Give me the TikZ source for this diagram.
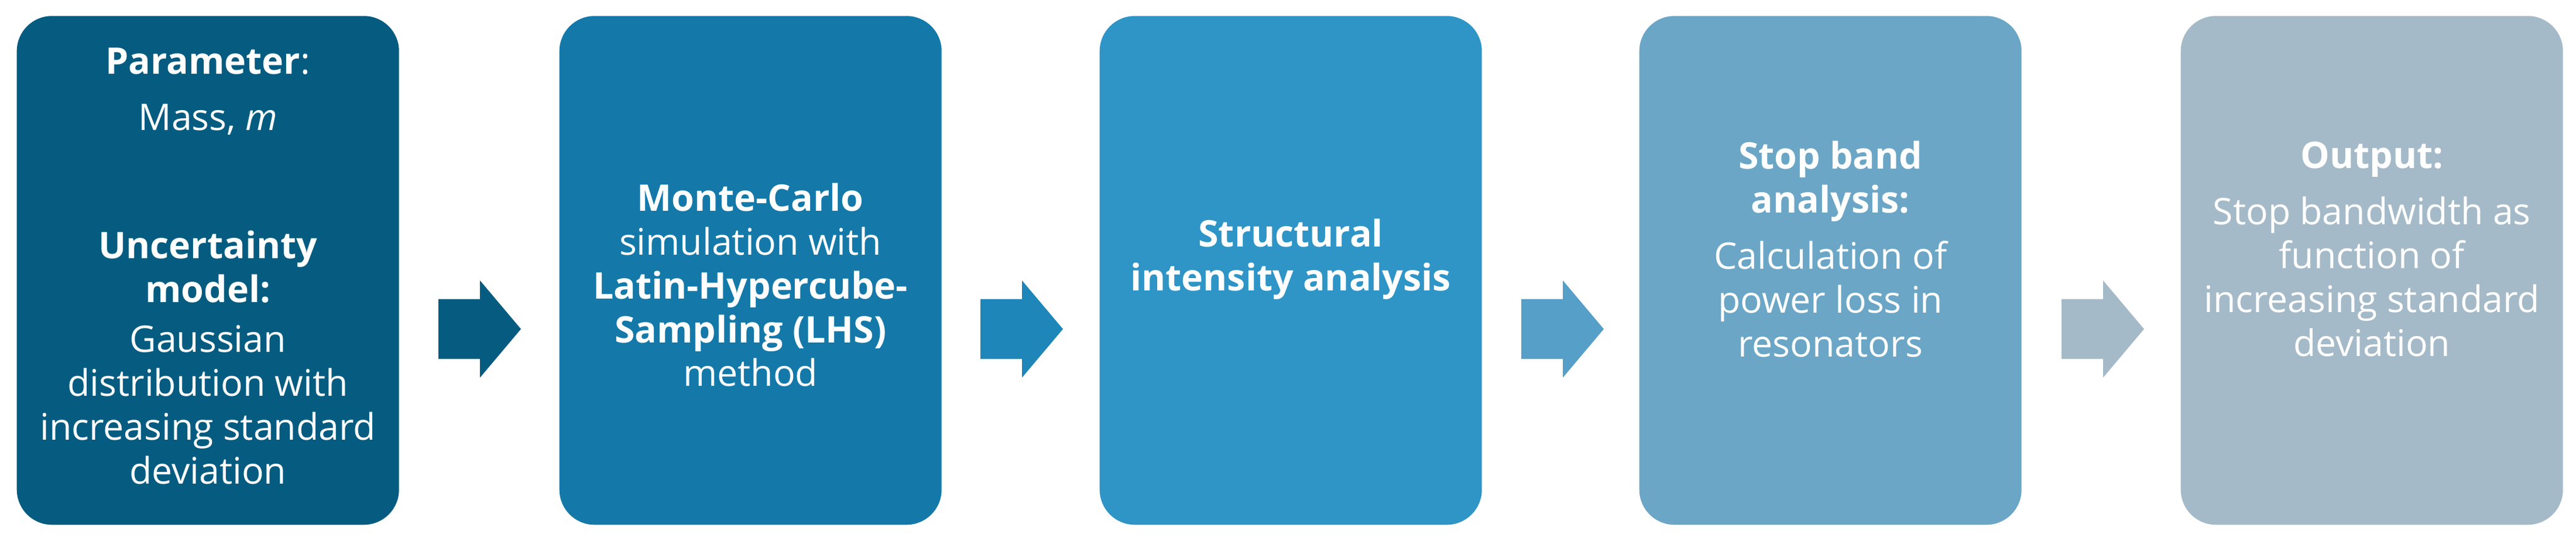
\documentclass[tikz,border=0pt]{standalone}
\usepackage{fontspec}
\setmainfont{Open Sans}
\definecolor{c1}{HTML}{055C80}
\definecolor{c2}{HTML}{1479A9}
\definecolor{c3}{HTML}{2F95C6}
\definecolor{c4}{HTML}{6BA6C6}
\definecolor{c5}{HTML}{A5BAC8}
\definecolor{a1}{HTML}{055C80}
\definecolor{a2}{HTML}{1E86B8}
\definecolor{a3}{HTML}{559FC8}
\definecolor{a4}{HTML}{A5BAC8}
\begin{document}
\begin{tikzpicture}[x=1cm,y=1cm,
  box/.style={rounded corners=0.6cm, minimum width=6.53cm, minimum height=8.69cm, inner sep=0},
  txt/.style={text=white, align=center, font=\fontsize{17.8}{21.3}\selectfont}]
\useasboundingbox (0,0) rectangle (44.01,9.24);
\foreach \i/\x in {1/0.28,2/9.55,3/18.78,4/28.00,5/37.25}{
  \node[box, fill=c\i, anchor=south west] (b\i) at (\x,0.27) {};
}
\foreach \i/\x in {1/7.49,2/16.75,3/25.99,4/35.22}{
  \fill[a\i] (\x,4.13) -- ++(0.71,0) -- ++(0,0.32) -- ++(0.70,-0.83) -- ++(-0.70,-0.83) -- ++(0,0.32) -- ++(-0.71,0) -- cycle;
}
\node[txt] (t1a) at ([yshift=-0.78cm]b1.north) {\textbf{Parameter}:};
\node[txt] (t1b) at ([yshift=-1.78cm]b1.north) {Mass, \textit{m}};
\node[txt, anchor=north] (t1c) at ([yshift=-3.55cm]b1.north) {\textbf{Uncertainty}\\\textbf{model:}\\[3pt]Gaussian\\distribution with\\increasing standard\\deviation};
\node[txt] (t2) at ([yshift=-0.25cm]b2.center) {\textbf{Monte-Carlo}\\simulation with\\\textbf{Latin-Hypercube-}\\\textbf{Sampling (LHS)}\\method};
\node[txt] (t3) at ([yshift=0.19cm]b3.center) {\textbf{Structural}\\\textbf{intensity analysis}};
\node[txt] (t4) at ([yshift=0.36cm]b4.center) {\textbf{Stop band}\\\textbf{analysis:}\\[6pt]Calculation of\\power loss in\\resonators};
\node[txt] (t5) at ([yshift=0.36cm]b5.center) {\textbf{Output:}\\[6pt]Stop bandwidth as\\function of\\increasing standard\\deviation};
\end{tikzpicture}
\end{document}
